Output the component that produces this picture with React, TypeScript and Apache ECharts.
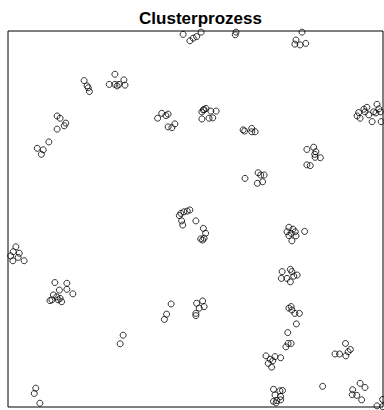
import React, { useEffect, useRef } from "react";
import * as echarts from "echarts";

const titleText = "Clusterprozess";

// point coordinates on the unit square (x, y)
const xs: number[] = [
  0.467, 0.485, 0.494, 0.503, 0.515, 0.608, 0.606, 0.784, 0.768, 0.765, 0.779, 0.794,
  0.203, 0.211, 0.214, 0.217,
  0.285, 0.270, 0.285, 0.291, 0.296, 0.309, 0.312,
  0.131, 0.139, 0.154, 0.150, 0.131,
  0.109, 0.078, 0.094, 0.089,
  0.399, 0.410, 0.421, 0.427, 0.427, 0.437, 0.445,
  0.521, 0.528, 0.517, 0.541, 0.555, 0.517, 0.536, 0.546, 0.523,
  0.627, 0.631, 0.650, 0.659, 0.650,
  0.935, 0.939, 0.949, 0.957, 0.962, 0.975, 0.971, 0.984, 0.993, 0.995, 1.002, 0.931, 0.952, 0.981, 0.989,
  0.797, 0.815, 0.821, 0.818, 0.833, 0.819, 0.797, 0.806,
  0.632, 0.667, 0.674, 0.683, 0.665, 0.679,
  0.461, 0.469, 0.478, 0.485, 0.457, 0.463, 0.466, 0.501, 0.521, 0.527, 0.514, 0.519, 0.523,
  0.749, 0.760, 0.744, 0.766, 0.749, 0.768, 0.757, 0.791, 0.755,
  0.021, 0.014, 0.030, 0.007, 0.027, 0.013, 0.043,
  0.731, 0.753, 0.757, 0.771, 0.729, 0.744, 0.753, 0.762,
  0.125, 0.157, 0.137, 0.157, 0.173, 0.121, 0.130, 0.112, 0.117, 0.139, 0.143, 0.134,
  0.435, 0.423, 0.417,
  0.503, 0.519, 0.523, 0.510, 0.501, 0.501,
  0.749, 0.755, 0.757, 0.765, 0.777, 0.769,
  0.307, 0.299,
  0.746, 0.741, 0.747, 0.755,
  0.688, 0.694, 0.703, 0.706, 0.712, 0.727, 0.699,
  0.900, 0.872, 0.884, 0.901, 0.907, 0.913,
  0.839,
  0.708, 0.725, 0.732, 0.712, 0.727, 0.708, 0.717, 0.727, 0.715,
  0.939, 0.952, 0.919, 0.918, 0.930, 0.943, 0.984, 0.999, 0.999,
  0.074, 0.070, 0.085,
];

const ys: number[] = [
  0.991, 0.974, 0.981, 0.985, 0.997, 0.997, 0.990, 0.997, 0.976, 0.965, 0.963, 0.967,
  0.868, 0.854, 0.849, 0.839,
  0.885, 0.858, 0.858, 0.854, 0.858, 0.870, 0.856,
  0.774, 0.768, 0.755, 0.748, 0.739,
  0.705, 0.688, 0.684, 0.672,
  0.768, 0.781, 0.775, 0.779, 0.745, 0.743, 0.753,
  0.790, 0.794, 0.785, 0.787, 0.787, 0.766, 0.768, 0.769, 0.791,
  0.737, 0.734, 0.741, 0.732, 0.732,
  0.783, 0.768, 0.792, 0.797, 0.777, 0.785, 0.759, 0.805, 0.785, 0.759, 0.799, 0.774, 0.785, 0.782, 0.793,
  0.685, 0.691, 0.679, 0.672, 0.663, 0.664, 0.644, 0.642,
  0.608, 0.623, 0.617, 0.617, 0.595, 0.599,
  0.515, 0.519, 0.521, 0.524, 0.509, 0.495, 0.484, 0.495, 0.475, 0.462, 0.447, 0.444, 0.449,
  0.478, 0.473, 0.466, 0.466, 0.456, 0.455, 0.442, 0.467, 0.462,
  0.426, 0.413, 0.409, 0.402, 0.398, 0.389, 0.389,
  0.360, 0.366, 0.360, 0.351, 0.342, 0.342, 0.333, 0.348,
  0.331, 0.329, 0.311, 0.313, 0.301, 0.298, 0.293, 0.283, 0.285, 0.289, 0.280, 0.285,
  0.274, 0.247, 0.233,
  0.276, 0.282, 0.267, 0.263, 0.249, 0.243,
  0.263, 0.267, 0.258, 0.249, 0.249, 0.221,
  0.191, 0.168,
  0.198, 0.160, 0.169, 0.169,
  0.136, 0.116, 0.106, 0.123, 0.134, 0.131, 0.127,
  0.169, 0.141, 0.141, 0.136, 0.147, 0.153,
  0.055,
  0.047, 0.043, 0.044, 0.032, 0.028, 0.015, 0.017, 0.019, 0.011,
  0.063, 0.052, 0.046, 0.033, 0.031, 0.019, 0.003, 0.020, 0.001,
  0.050, 0.036, 0.010,
];

export default function App() {
  const ref = useRef<HTMLDivElement>(null);
  useEffect(() => {
    if (!ref.current) return;
    const chart = echarts.init(ref.current, null, { renderer: "svg" });
    const points = xs.map((x, i) => [x, ys[i]]);
    chart.setOption({
      animation: false,
      backgroundColor: "#ffffff",
      title: {
        text: titleText,
        left: 195.5,
        textAlign: "center",
        top: 5,
        textStyle: {
          fontFamily: "Liberation Sans, Arial, sans-serif",
          fontWeight: "bold",
          fontSize: 17,
          color: "#000",
        },
      },
      grid: {
        left: 8,
        top: 31,
        width: 375,
        height: 376,
        show: true,
        borderColor: "#000",
        borderWidth: 1,
        backgroundColor: "transparent",
      },
      xAxis: {
        type: "value",
        min: 0,
        max: 1,
        axisLine: { show: false },
        axisTick: { show: false },
        axisLabel: { show: false },
        splitLine: { show: false },
      },
      yAxis: {
        type: "value",
        min: 0,
        max: 1,
        axisLine: { show: false },
        axisTick: { show: false },
        axisLabel: { show: false },
        splitLine: { show: false },
      },
      series: [
        {
          type: "scatter",
          data: points,
          symbol: "circle",
          symbolSize: 6,
          clip: true,
          itemStyle: {
            color: "rgba(0,0,0,0)",
            borderColor: "#000",
            borderWidth: 1,
          },
          emphasis: { disabled: true },
        },
      ],
    });
    return () => chart.dispose();
  }, []);
  return (
    <div
      ref={ref}
      style={{ position: "fixed", left: 0, top: 0, width: 384, height: 410 }}
    />
  );
}
